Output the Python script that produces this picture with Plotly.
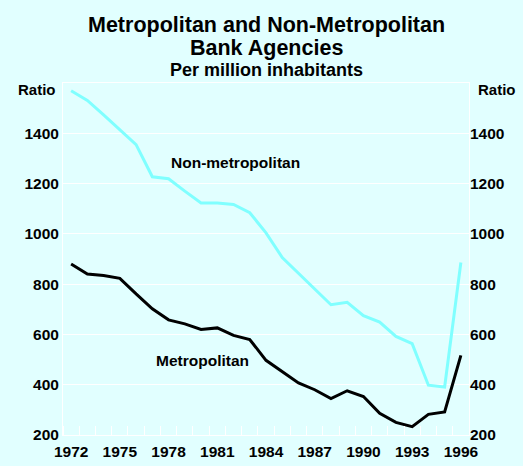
import plotly.graph_objects as go

years = list(range(1972, 1997))
non_metro = [1569, 1531, 1473, 1415, 1355, 1227, 1219, 1170, 1123, 1123, 1117, 1084,
             1004, 906, 842, 782, 718, 728, 675, 649, 592, 563, 398, 391, 886]
metro = [880, 840, 834, 823, 761, 702, 658, 642, 620, 626, 596, 580,
         497, 451, 407, 380, 345, 376, 353, 286, 250, 233, 282, 292, 517]
x_labels = [1972, 1975, 1978, 1981, 1984, 1987, 1990, 1993, 1996]
y_ticks = [200, 400, 600, 800, 1000, 1200, 1400]

BG = "#E1FFFF"
FONT = "Arial, Liberation Sans, sans-serif"

fig = go.Figure()
fig.add_trace(go.Scatter(x=years, y=non_metro, mode="lines",
                         line=dict(color="#80FFFF", width=3), showlegend=False))
fig.add_trace(go.Scatter(x=years, y=metro, mode="lines",
                         line=dict(color="black", width=3), showlegend=False))
fig.add_trace(go.Scatter(x=years, y=metro, mode="lines", yaxis="y2",
                         line=dict(color="rgba(0,0,0,0)", width=0), showlegend=False,
                         hoverinfo="skip"))

tickfont = dict(family=FONT, size=15.5, color="black", weight="bold")


def ann(text, x, y, size, xref="paper", yref="paper"):
    return dict(text="<b>%s</b>" % text, xref=xref, yref=yref, x=x, y=y,
                xanchor="center", yanchor="middle", showarrow=False,
                font=dict(family=FONT, size=size, color="black"))


fig.update_layout(
    width=523, height=466,
    paper_bgcolor=BG, plot_bgcolor=BG,
    margin=dict(l=63, r=54, t=83, b=31, autoexpand=False),
    xaxis=dict(range=[1971.5, 1996.5], tickmode="array", tickvals=x_labels,
               ticktext=[str(v) for v in x_labels], ticks="", showgrid=False,
               zeroline=False, showline=True, mirror=True, linecolor="white", linewidth=1,
               tickfont=tickfont, ticklabelstandoff=2, automargin=False,
               minor=dict(tickmode="linear", tick0=1971.5, dtick=1, ticks="inside",
                          ticklen=9, tickcolor="white", tickwidth=1, showgrid=False)),
    yaxis=dict(range=[200, 1600], tickmode="array", tickvals=y_ticks, ticks="",
               showgrid=True, gridcolor="white", gridwidth=1, zeroline=False,
               showline=True, mirror=True, linecolor="white", linewidth=1,
               tickfont=tickfont, automargin=False),
    yaxis2=dict(range=[200, 1600], tickmode="array", tickvals=y_ticks, ticks="",
                overlaying="y", side="right", showgrid=False, zeroline=False,
                tickfont=tickfont, automargin=False),
    annotations=[
        ann("Metropolitan and Non-Metropolitan", 0.5, 1.166, 21.5),
        ann("Bank Agencies", 0.5, 1.099, 21.5),
        ann("Per million inhabitants", 0.5, 1.036, 18),
        ann("Ratio", -0.065, 0.9815, 15),
        ann("Ratio", 1.069, 0.9815, 15),
        ann("Non-metropolitan", 1982.15, 1283, 15.5, "x", "y"),
        ann("Metropolitan", 1980.06, 498, 15.5, "x", "y"),
    ],
)

fig.write_html(
    "out.html",
    config={"displayModeBar": False},
    post_script="document.body.style.margin='0';document.body.style.background='%s';" % BG,
)
